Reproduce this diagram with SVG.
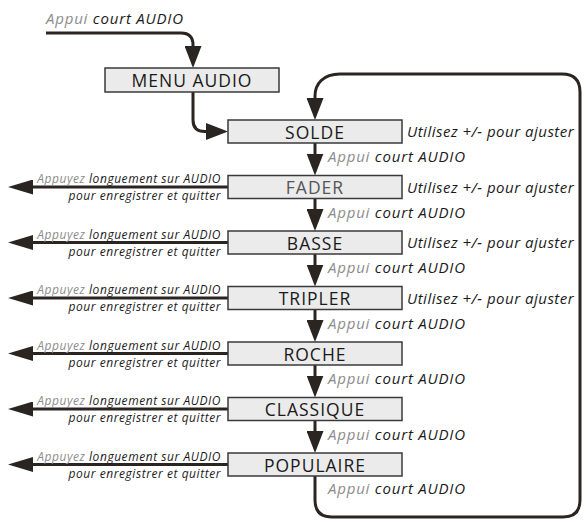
<svg xmlns="http://www.w3.org/2000/svg" width="584" height="520" viewBox="0 0 584 520">
<style>
.box{fill:#ebebeb;stroke:#3a3a3a;stroke-width:1.5}
.lbl{font-family:"Open Sans",Lato,sans-serif;font-size:17.5px;letter-spacing:1px;fill:#1a1a1a;text-anchor:middle}
.dim{fill:#555}
.ln{fill:none;stroke:#2b2522;stroke-width:3}
.it{font-family:"Open Sans",Lato,sans-serif;font-style:italic;fill:#1a1a1a}
.g{fill:#8c8c8c}
.a{font-size:15px;letter-spacing:0.8px}
.u{font-size:15px;letter-spacing:0.5px}
.s{font-size:12px;letter-spacing:0.55px;text-anchor:end}
</style>
<defs>
<marker id="ah" viewBox="0 0 22 17" refX="14" refY="8.5" markerWidth="22" markerHeight="17" markerUnits="userSpaceOnUse" orient="auto">
<path d="M0,0 L22,8.5 L0,17 z" fill="#2b2522"/>
</marker>
<marker id="al" viewBox="0 0 25 15" refX="17" refY="7.5" markerWidth="25" markerHeight="15" markerUnits="userSpaceOnUse" orient="auto">
<path d="M0,0 L25,7.5 L0,15 z" fill="#2b2522"/>
</marker>
</defs>
<g id="connectors">
<path class="ln" d="M46,33 H181 Q193,33 193,45 V60" marker-end="url(#ah)"/>
<path class="ln" d="M193,92 V120 Q193,131.5 205,131.5 H220" marker-end="url(#ah)"/>
<path class="ln" d="M315,476 V500 Q315,517 332,517 H563 Q580,517 580,500 V92 Q580,74 562,74 H340 C323,74 315,84 315,96 V112" marker-end="url(#ah)"/>
<path class="ln" d="M315,143 V167.5" marker-end="url(#ah)"/>
<path class="ln" d="M315,198.5 V223" marker-end="url(#ah)"/>
<path class="ln" d="M315,254 V278.5" marker-end="url(#ah)"/>
<path class="ln" d="M315,309.5 V334" marker-end="url(#ah)"/>
<path class="ln" d="M315,365 V389.5" marker-end="url(#ah)"/>
<path class="ln" d="M315,420.5 V445" marker-end="url(#ah)"/>
<path class="ln" d="M228,187 H16" marker-end="url(#al)"/>
<path class="ln" d="M228,242.5 H16" marker-end="url(#al)"/>
<path class="ln" d="M228,298 H16" marker-end="url(#al)"/>
<path class="ln" d="M228,353.5 H16" marker-end="url(#al)"/>
<path class="ln" d="M228,409 H16" marker-end="url(#al)"/>
<path class="ln" d="M228,464.5 H16" marker-end="url(#al)"/>
</g>
<g id="labels">
<text class="it a" x="46" y="24"><tspan class="g">Appui</tspan> court AUDIO</text>
<text class="it a" x="328" y="162"><tspan class="g">Appui</tspan> court AUDIO</text>
<text class="it a" x="328" y="217.5"><tspan class="g">Appui</tspan> court AUDIO</text>
<text class="it a" x="328" y="273"><tspan class="g">Appui</tspan> court AUDIO</text>
<text class="it a" x="328" y="328.5"><tspan class="g">Appui</tspan> court AUDIO</text>
<text class="it a" x="328" y="384"><tspan class="g">Appui</tspan> court AUDIO</text>
<text class="it a" x="328" y="439.5"><tspan class="g">Appui</tspan> court AUDIO</text>
<text class="it a" x="328" y="494"><tspan class="g">Appui</tspan> court AUDIO</text>
<text class="it u" x="407" y="137">Utilisez +/- pour ajuster</text>
<text class="it u" x="407" y="192.5">Utilisez +/- pour ajuster</text>
<text class="it u" x="407" y="248">Utilisez +/- pour ajuster</text>
<text class="it u" x="407" y="303.5">Utilisez +/- pour ajuster</text>
<text class="it s" x="221" y="183"><tspan class="g">Appuyez</tspan> longuement sur AUDIO</text>
<text class="it s" x="221" y="200">pour enregistrer et quitter</text>
<text class="it s" x="221" y="238.5"><tspan class="g">Appuyez</tspan> longuement sur AUDIO</text>
<text class="it s" x="221" y="255.5">pour enregistrer et quitter</text>
<text class="it s" x="221" y="294"><tspan class="g">Appuyez</tspan> longuement sur AUDIO</text>
<text class="it s" x="221" y="311">pour enregistrer et quitter</text>
<text class="it s" x="221" y="349.5"><tspan class="g">Appuyez</tspan> longuement sur AUDIO</text>
<text class="it s" x="221" y="366.5">pour enregistrer et quitter</text>
<text class="it s" x="221" y="405"><tspan class="g">Appuyez</tspan> longuement sur AUDIO</text>
<text class="it s" x="221" y="422">pour enregistrer et quitter</text>
<text class="it s" x="221" y="460.5"><tspan class="g">Appuyez</tspan> longuement sur AUDIO</text>
<text class="it s" x="221" y="477.5">pour enregistrer et quitter</text>
</g>
<g id="menu-audio"><rect class="box" x="105" y="68" width="174" height="24"/><text class="lbl" x="192" y="87">MENU AUDIO</text></g>
<g id="solde"><rect class="box" x="228" y="120" width="174" height="23"/><text class="lbl" x="315" y="138.5">SOLDE</text></g>
<g id="fader"><rect class="box" x="228" y="175.5" width="174" height="23"/><text class="lbl dim" x="315" y="194">FADER</text></g>
<g id="basse"><rect class="box" x="228" y="231" width="174" height="23"/><text class="lbl" x="315" y="249.5">BASSE</text></g>
<g id="tripler"><rect class="box" x="228" y="286.5" width="174" height="23"/><text class="lbl" x="315" y="305">TRIPLER</text></g>
<g id="roche"><rect class="box" x="228" y="342" width="174" height="23"/><text class="lbl" x="315" y="360.5">ROCHE</text></g>
<g id="classique"><rect class="box" x="228" y="397.5" width="174" height="23"/><text class="lbl" x="315" y="416">CLASSIQUE</text></g>
<g id="populaire"><rect class="box" x="228" y="453" width="174" height="23"/><text class="lbl" x="315" y="471.5">POPULAIRE</text></g>
</svg>
